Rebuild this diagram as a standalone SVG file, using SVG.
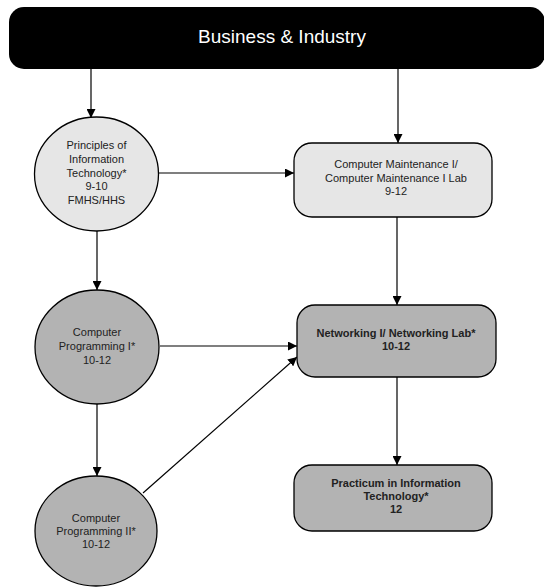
<svg xmlns="http://www.w3.org/2000/svg" width="544" height="587" viewBox="0 0 544 587">
  <style>
    .node { stroke: #000; stroke-width: 1.3; }
    .light { fill: #e6e6e6; }
    .dark { fill: #b3b3b3; }
    .label { font-family: "Liberation Sans", Arial, sans-serif; font-size: 11px; fill: #222; text-anchor: middle; }
    .bold { font-weight: bold; }
    .title { font-family: "Liberation Sans", Arial, sans-serif; font-size: 19px; fill: #fff; text-anchor: middle; }
    .edge { stroke: #000; stroke-width: 1.2; fill: none; marker-end: url(#arrow); }
  </style>
  <defs>
    <marker id="arrow" viewBox="0 0 10 10" refX="10" refY="5" markerWidth="9" markerHeight="9" markerUnits="userSpaceOnUse" orient="auto">
      <path d="M0,0 L10,5 L0,10 Z" fill="#000"/>
    </marker>
  </defs>

  <rect width="544" height="587" fill="#fff"/>

  <g id="connectors">
    <line class="edge" x1="91" y1="69" x2="91" y2="118"/>
    <line class="edge" x1="398" y1="69" x2="398" y2="143"/>
    <line class="edge" x1="158" y1="173" x2="294" y2="173"/>
    <line class="edge" x1="97" y1="231" x2="97" y2="290"/>
    <line class="edge" x1="397" y1="217" x2="397" y2="305"/>
    <line class="edge" x1="160" y1="346" x2="297" y2="346"/>
    <line class="edge" x1="97" y1="403" x2="97" y2="476"/>
    <line class="edge" x1="143" y1="493" x2="297" y2="357"/>
    <line class="edge" x1="397" y1="377" x2="397" y2="465"/>
  </g>

  <g id="business-industry">
    <rect x="9" y="7" width="536" height="62" rx="15" fill="#000"/>
    <text class="title" x="282" y="43">Business &amp; Industry</text>
  </g>

  <g id="principles-it">
    <ellipse class="node light" cx="96.5" cy="174" rx="62" ry="57"/>
    <text class="label" x="96.5" y="149">Principles of</text>
    <text class="label" x="96.5" y="163">Information</text>
    <text class="label" x="96.5" y="177">Technology*</text>
    <text class="label" x="96.5" y="190">9-10</text>
    <text class="label" x="96.5" y="204">FMHS/HHS</text>
  </g>

  <g id="computer-maintenance">
    <rect class="node light" x="294" y="143" width="198" height="74" rx="18"/>
    <text class="label" x="396" y="168">Computer Maintenance I/</text>
    <text class="label" x="396" y="182">Computer Maintenance I Lab</text>
    <text class="label" x="396" y="195">9-12</text>
  </g>

  <g id="computer-programming-1">
    <ellipse class="node dark" cx="97" cy="347" rx="62" ry="57"/>
    <text class="label" x="97" y="336">Computer</text>
    <text class="label" x="97" y="350">Programming I*</text>
    <text class="label" x="97" y="364">10-12</text>
  </g>

  <g id="networking">
    <rect class="node dark" x="297" y="305" width="199" height="72" rx="18"/>
    <text class="label bold" x="396" y="337">Networking I/ Networking Lab*</text>
    <text class="label bold" x="396" y="350">10-12</text>
  </g>

  <g id="computer-programming-2">
    <ellipse class="node dark" cx="96" cy="531" rx="61" ry="55"/>
    <text class="label" x="96" y="522">Computer</text>
    <text class="label" x="96" y="535">Programming II*</text>
    <text class="label" x="96" y="548">10-12</text>
  </g>

  <g id="practicum">
    <rect class="node dark" x="294" y="465" width="198" height="66" rx="18"/>
    <text class="label bold" x="396" y="487">Practicum in Information</text>
    <text class="label bold" x="396" y="500">Technology*</text>
    <text class="label bold" x="396" y="513">12</text>
  </g>
</svg>
